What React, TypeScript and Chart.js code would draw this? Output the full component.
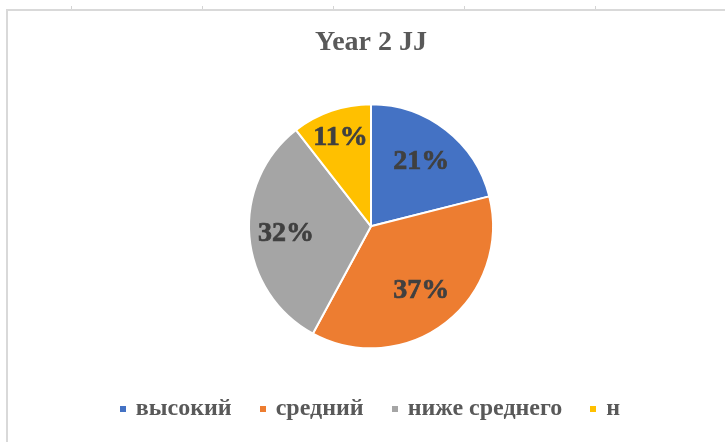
import React, { useEffect, useRef } from "react";
import { Chart, registerables } from "chart.js";

Chart.register(...registerables);

const chartTitle = "Year 2 JJ";
const categories = ["высокий", "средний", "ниже среднего", "н"];
const counts = [4, 7, 6, 2];
const sliceColors = ["#4472C4", "#ED7D31", "#A5A5A5", "#FFC000"];
const labelRadiusFrac = [0.67, 0.67, 0.7, 0.77];

const total = counts.reduce((a, b) => a + b, 0);
const percentLabels = counts.map((v) => Math.round((v / total) * 100) + "%");

const SERIF = '"Liberation Serif", "Times New Roman", serif';

const pctLabelPlugin = {
  id: "pctLabels",
  afterDatasetsDraw(chart: any) {
    const meta = chart.getDatasetMeta(0);
    const ctx = chart.ctx;
    ctx.save();
    ctx.font = `bold 28px ${SERIF}`;
    ctx.fillStyle = "#404040";
    ctx.strokeStyle = "#404040";
    ctx.lineWidth = 0.7;
    ctx.textAlign = "center";
    ctx.textBaseline = "middle";
    meta.data.forEach((arc: any, i: number) => {
      const { x, y, startAngle, endAngle, outerRadius } = arc.getProps(
        ["x", "y", "startAngle", "endAngle", "outerRadius"],
        true
      );
      const mid = (startAngle + endAngle) / 2;
      const r = outerRadius * labelRadiusFrac[i];
      const px = x + Math.cos(mid) * r;
      const py = y + Math.sin(mid) * r;
      ctx.fillText(percentLabels[i], px, py);
      ctx.strokeText(percentLabels[i], px, py);
    });
    ctx.restore();
  },
};

function markerImage(color: string) {
  const c = document.createElement("canvas");
  c.width = 6;
  c.height = 6;
  const g = c.getContext("2d");
  if (g) {
    g.fillStyle = color;
    g.fillRect(0, 0, 6, 6);
  }
  return c;
}

const tickXs = [71, 202, 333, 464, 595];

export default function App() {
  const ref = useRef<HTMLCanvasElement | null>(null);

  useEffect(() => {
    if (!ref.current) return;
    const chart = new Chart(ref.current, {
      type: "pie",
      data: {
        labels: categories,
        datasets: [
          {
            data: counts,
            backgroundColor: sliceColors,
            borderColor: "#ffffff",
            borderWidth: 2,
            radius: 122,
          } as any,
        ],
      },
      options: {
        animation: false,
        responsive: true,
        maintainAspectRatio: false,
        layout: { padding: { left: 17, right: 0, top: 0, bottom: 0 } },
        plugins: {
          tooltip: { enabled: false },
          title: {
            display: true,
            text: chartTitle,
            color: "#595959",
            font: { family: SERIF, size: 28, weight: "bold" },
            padding: { top: 26, bottom: 26 },
          },
          legend: {
            display: true,
            position: "bottom",
            labels: {
              color: "#595959",
              font: { family: SERIF, size: 24, weight: "bold" },
              usePointStyle: true,
              boxWidth: 2,
              boxHeight: 6,
              padding: 30,
              generateLabels: (chart: any) => {
                const items = (Chart as any).overrides.pie.plugins.legend.labels.generateLabels(chart);
                return items.map((it: any, i: number) => ({
                  ...it,
                  pointStyle: markerImage(sliceColors[i]),
                  lineWidth: 0,
                  strokeStyle: "rgba(0,0,0,0)",
                }));
              },
            },
          },
        },
      },
      plugins: [pctLabelPlugin],
    });
    return () => chart.destroy();
  }, []);

  return (
    <div style={{ position: "fixed", left: 0, top: 0, width: 725, height: 442, overflow: "hidden", background: "#fff" }}>
      <div style={{ position: "absolute", left: 6, top: 9, width: 719, height: 2, background: "#d9d9d9" }} />
      <div style={{ position: "absolute", left: 6, top: 9, width: 2, height: 433, background: "#d9d9d9" }} />
      {tickXs.map((x) => (
        <div key={x} style={{ position: "absolute", left: x, top: 6, width: 1, height: 3, background: "#d4d4d4" }} />
      ))}
      <div style={{ position: "absolute", left: 0, top: 0, width: 725, height: 431 }}>
        <canvas ref={ref} />
      </div>
    </div>
  );
}
